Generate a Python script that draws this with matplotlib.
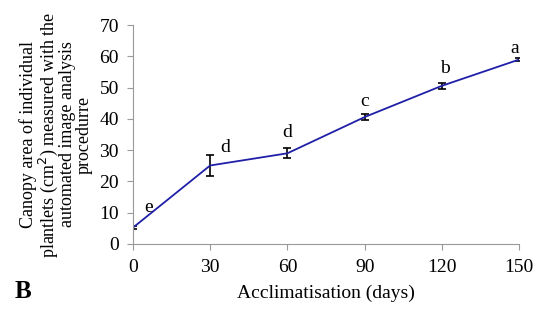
import matplotlib
matplotlib.use("Agg")
import matplotlib.pyplot as plt

days = [0, 30, 60, 90, 120, 150]
area = [5.2, 25.1, 29.0, 40.6, 50.6, 59.0]
err = [0.4, 3.3, 1.6, 1.0, 1.0, 0.6]
letters = ["e", "d", "d", "c", "b", "a"]

plt.rcParams['font.family'] = ['Liberation Serif', 'DejaVu Serif']

fig = plt.figure(figsize=(5.38, 3.31), dpi=100)
ax = fig.add_axes([0.247, 0.263, 0.718, 0.661])

ax.errorbar(days, area, yerr=err, color='#1f1fa8', lw=1.3,
            ecolor='black', elinewidth=1.2, capsize=3, capthick=1.2)

# letter labels next to each point (offsets from the point)
offsets = [(6, 6.6), (6, 5.6), (0, 6.8), (0, 5.1), (1, 5.6), (-1.6, 3.6)]
for x, y, t, (dx, dy) in zip(days, area, letters, offsets):
    ax.text(x + dx, y + dy, t, ha='center', va='center', fontsize=14)

ax.set_xlim(0, 150)
ax.set_ylim(0, 70)
ax.set_xticks(days)
ax.set_yticks(range(0, 71, 10))
ax.tick_params(labelsize=14, color='#999999', length=4)
ax.tick_params(axis='x', pad=7)
ax.tick_params(axis='y', pad=6)
for s in ['top', 'right']:
    ax.spines[s].set_visible(False)
for s in ['left', 'bottom']:
    ax.spines[s].set_color('#999999')

ax.set_xlabel('Acclimatisation (days)', fontsize=14, labelpad=6)
ax.set_ylabel('Canopy area of individual\nplantlets (cm$^2$) measured with the\nautomated image analysis\nprocedurre',
              fontsize=13, linespacing=0.95, labelpad=5)

fig.text(0.028, 0.1, 'B', fontsize=18, fontweight='bold')

fig.savefig('out.png', dpi=100)
